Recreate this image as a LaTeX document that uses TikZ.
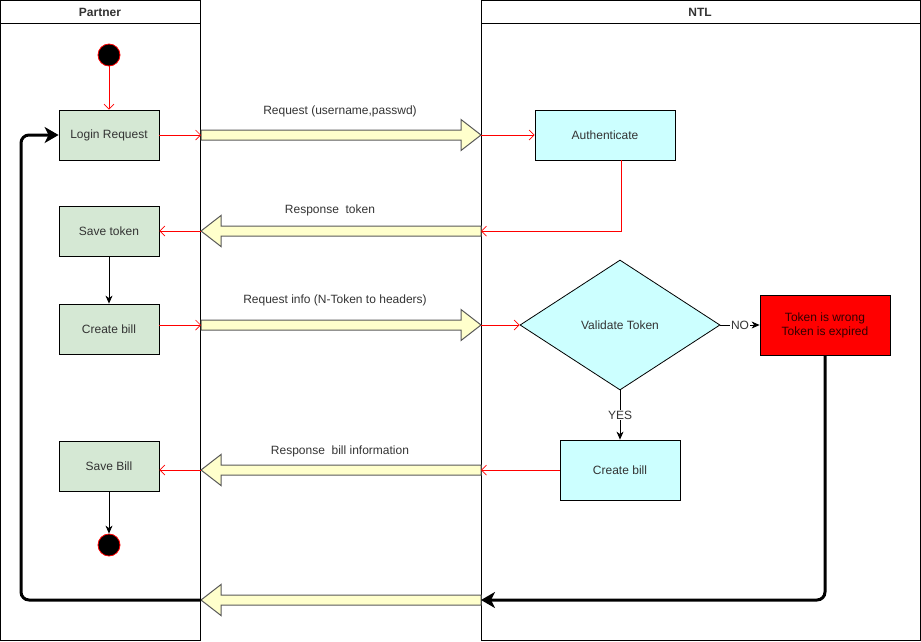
\documentclass[tikz,border=0pt]{standalone}
\usepackage{fontspec}
\setmainfont{Liberation Sans}
\usetikzlibrary{arrows.meta,shapes.geometric}
\definecolor{gfill}{HTML}{D5E8D4}
\definecolor{cfill}{HTML}{CCFFFF}
\definecolor{yfill}{HTML}{FFFFCC}
\definecolor{rfill}{HTML}{FF0000}
\definecolor{txt}{HTML}{333333}
\newcommand\fatarr[4]{% name, tail x, tip x, y
  \pgfmathsetmacro\fhx{#3-20*sign(#3-#2)}%
  \coordinate (#1-tail) at (#2,#4);
  \coordinate (#1-tip) at (#3,#4);
  \draw[fatst] (#2,#4-5) -- (\fhx,#4-5) -- (\fhx,#4-15.5) -- (#3,#4) -- (\fhx,#4+15.5) -- (\fhx,#4+5) -- (#2,#4+5) -- cycle;}
\begin{document}
\begin{tikzpicture}[x=1pt,y=-1pt,font=\fontsize{12}{14}\selectfont,text=txt,
  lane/.style={draw=black,line width=0.8pt},
  hdr/.style={font=\fontsize{12}{14}\selectfont\bfseries},
  gbox/.style={draw=black,fill=gfill,minimum width=100pt,minimum height=50pt,inner sep=0pt,line width=0.8pt},
  cbox/.style={draw=black,fill=cfill,inner sep=0pt,line width=0.8pt},
  dot/.style={circle,fill=black,draw=red,minimum size=22pt,inner sep=0pt,line width=0.8pt},
  fatst/.style={draw=black!65,fill=yfill,line width=1pt,line join=miter},
  redarr/.style={draw=red,line width=0.7pt,-{Straight Barb[length=5pt,width=10pt]}},
  blkarr/.style={draw=black,line width=0.8pt,-{Stealth[length=8pt,width=7pt,inset=2.5pt]}},
  thickarr/.style={draw=black,line width=3pt,rounded corners=8pt,-{Stealth[length=14pt,width=16pt,inset=4pt]}},
  lbl/.style={fill=white,inner sep=1pt}
]
\useasboundingbox (0,0) rectangle (921,641);
% lanes
\draw[lane] (0.5,0.5) rectangle (200,640);
\draw[lane] (0.5,23) -- (200,23);
\node[hdr] (hp) at (100,12) {Partner};
\draw[lane] (481,0.5) rectangle (920,640);
\draw[lane] (481,23) -- (920,23);
\node[hdr] (hn) at (700,12) {NTL};
% partner nodes
\node[dot] (start) at (109,55) {};
\node[gbox] (login) at (109,135) {Login Request};
\node[gbox] (savetok) at (109,231) {Save token};
\node[gbox] (createL) at (109,329) {Create bill};
\node[gbox] (savebill) at (109,466) {Save Bill};
\node[dot] (endc) at (109,545) {};
% NTL nodes
\node[cbox,minimum width=140pt,minimum height=50pt] (auth) at (605,135) {Authenticate};
\node[diamond,draw=black,fill=cfill,line width=0.8pt,minimum width=200pt,minimum height=130pt,inner sep=0pt] (diam) at (620,325) {Validate Token};
\node[draw=black,fill=rfill,minimum width=130pt,minimum height=60pt,inner sep=0pt,line width=0.8pt,align=center,text=black!80!red] (rb) at (825,325) {Token is wrong\\Token is expired};
\node[cbox,minimum width=120pt,minimum height=60pt] (createR) at (620,470) {Create bill};
% fat arrows
\fatarr{a1}{201}{481}{135}
\fatarr{a2}{481}{201}{231}
\fatarr{a3}{201}{481}{325}
\fatarr{a4}{481}{201}{470}
\fatarr{a5}{481}{201}{600}
% fat arrow labels
\node (t1) at (340,111) {Request (username,passwd)};
\node (t2) at (330,210) {Response~~token};
\node (t3) at (335,300) {Request info (N-Token to headers)};
\node (t4) at (340,451) {Response~~bill information};
% red connectors
\draw[redarr] (start) -- (login.north);
\draw[redarr] (login.east) -- (a1-tail);
\draw[redarr] (a1-tip) -- (auth.west);
\coordinate (authout) at (621,160);
\draw[redarr] (authout) |- (a2-tail);
\draw[redarr] (a2-tip) -- (savetok.east);
\draw[redarr] (a3-tail -| createL.east) -- (a3-tail);
\draw[redarr] (a3-tip) -- (diam.west);
\draw[redarr] (createR.west) -- (a4-tail);
\draw[redarr] (a4-tip) -- (a4-tip -| savebill.east);
% black connectors
\draw[blkarr] (savetok.south) -- (createL.north);
\draw[blkarr] (savebill.south) -- (endc.north);
\draw[blkarr] (diam.south) -- node[lbl] {YES} (createR.north);
\draw[blkarr] (diam.east) -- node[lbl] {NO} (rb.west);
% thick loop
\draw[thickarr] (rb.south) |- (a5-tail);
\coordinate (c1) at (21,135);
\draw[thickarr] (a5-tip) -| (c1) -- (login.west);
\end{tikzpicture}
\end{document}
